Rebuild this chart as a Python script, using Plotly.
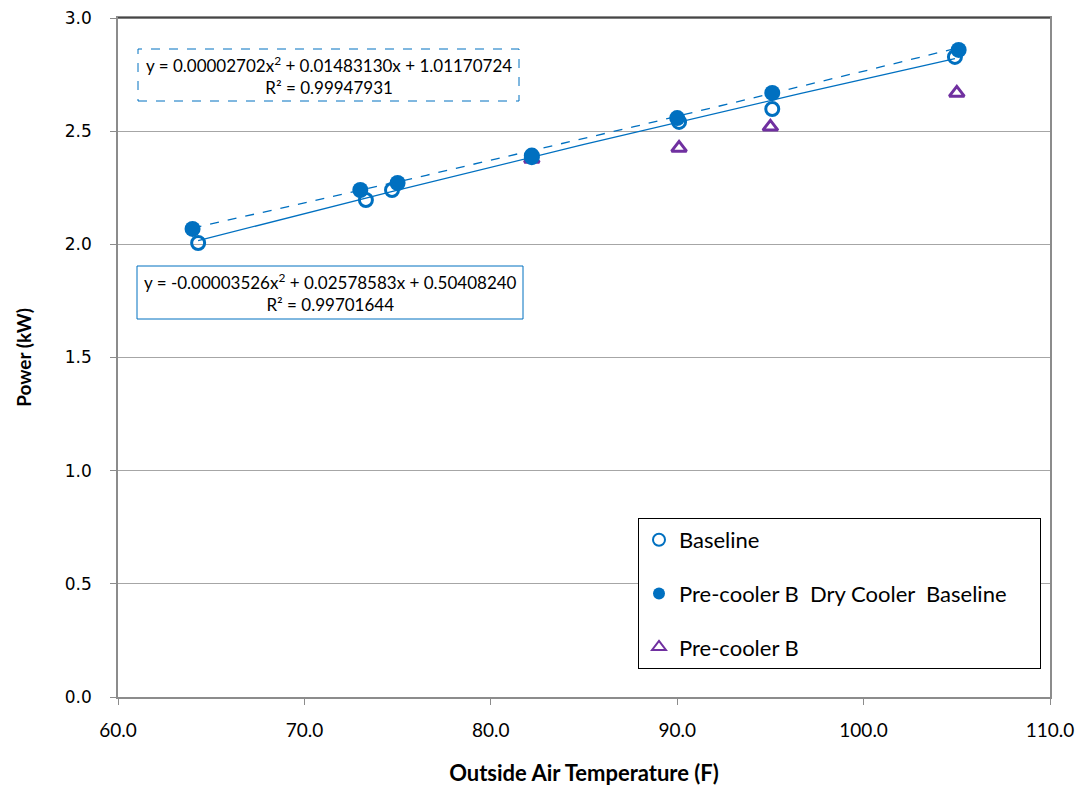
import plotly.graph_objects as go
import numpy as np

# Data
baseline_x = [64.3, 73.3, 74.7, 82.2, 90.1, 95.1, 104.9]
baseline_y = [2.006, 2.196, 2.240, 2.385, 2.541, 2.598, 2.828]

dry_x = [64.0, 73.0, 75.0, 82.2, 90.0, 95.1, 105.1]
dry_y = [2.068, 2.240, 2.271, 2.392, 2.558, 2.669, 2.859]

pre_x = [82.2, 90.1, 95.0, 105.0]
pre_y = [2.377, 2.426, 2.519, 2.669]

# Trendline coefficients (from chart labels)
base_coef = [-0.00003526, 0.02578583, 0.50408240]
dry_coef = [0.00002702, 0.01483130, 1.01170724]

x_ticks = [60, 70, 80, 90, 100, 110]
y_ticks = [0.0, 0.5, 1.0, 1.5, 2.0, 2.5, 3.0]

BLUE = "#0070C0"
PURPLE = "#7030A0"
FONT = "Lato"

def poly(coef, xs):
    xs = np.asarray(xs)
    return coef[0] * xs**2 + coef[1] * xs + coef[2]

fig = go.Figure()

# Trendlines
bx = np.linspace(min(baseline_x), max(baseline_x), 60)
fig.add_trace(go.Scatter(x=bx, y=poly(base_coef, bx), mode="lines",
                         line=dict(color=BLUE, width=1.3), showlegend=False, hoverinfo="skip"))
dx = np.linspace(min(dry_x), max(dry_x), 60)
fig.add_trace(go.Scatter(x=dx, y=poly(dry_coef, dx), mode="lines",
                         line=dict(color=BLUE, width=1.3, dash="dash"), showlegend=False, hoverinfo="skip"))

fig.add_trace(go.Scatter(x=pre_x, y=pre_y, mode="markers", name="Pre-cooler B",
                         marker=dict(symbol="triangle-up-open", size=13, color=PURPLE,
                                     line=dict(width=3, color=PURPLE)),
                         legendgroup="c", legendrank=3))
fig.add_trace(go.Scatter(x=dry_x, y=dry_y, mode="markers",
                         name="Pre-cooler B&nbsp; Dry Cooler&nbsp; Baseline&nbsp;&nbsp;&nbsp;&nbsp;&nbsp;",
                         marker=dict(symbol="circle", size=16, color=BLUE),
                         legendgroup="b", legendrank=2))
fig.add_trace(go.Scatter(x=baseline_x, y=baseline_y, mode="markers", name="Baseline",
                         marker=dict(symbol="circle-open", size=13, color=BLUE,
                                     line=dict(width=3, color=BLUE)),
                         legendgroup="a", legendrank=1))

L, R, T, B = 118, 40, 18, 90
W, H = 1090, 787
pw, ph = W - L - R, H - T - B

def px_x(p):
    return (p - L) / pw

def px_y(p):
    return (H - B - p) / ph

shapes = [
    dict(type="rect", xref="paper", yref="paper",
         x0=px_x(138), x1=px_x(519), y0=px_y(101), y1=px_y(49),
         line=dict(color=BLUE, width=1, dash="dash"), fillcolor="white", layer="above"),
    dict(type="rect", xref="paper", yref="paper",
         x0=px_x(137), x1=px_x(523), y0=px_y(319), y1=px_y(266),
         line=dict(color=BLUE, width=1), fillcolor="white", layer="above"),
    dict(type="line", xref="paper", yref="paper", x0=0, x1=1, y0=1, y1=1,
         line=dict(color="black", width=1.2), layer="above"),
]

annotations = [
    dict(xref="paper", yref="paper", x=px_x(328.5), y=px_y(75), showarrow=False,
         xanchor="center", yanchor="middle",
         text="y = 0.00002702x<sup>2</sup> + 0.01483130x + 1.01170724<br>R² = 0.99947931",
         font=dict(family=FONT, size=17, color="black"), align="center"),
    dict(xref="paper", yref="paper", x=px_x(330), y=px_y(292.5), showarrow=False,
         xanchor="center", yanchor="middle",
         text="y = -0.00003526x<sup>2</sup> + 0.02578583x + 0.50408240<br>R² = 0.99701644",
         font=dict(family=FONT, size=17, color="black"), align="center"),
]

fig.update_layout(
    width=W, height=H,
    margin=dict(l=L, r=R, t=T, b=B),
    plot_bgcolor="white", paper_bgcolor="white",
    font=dict(family=FONT, size=17, color="black"),
    shapes=shapes, annotations=annotations,
    legend=dict(x=px_x(638), y=px_y(518), xanchor="left", yanchor="top",
                bordercolor="black", borderwidth=1, bgcolor="white",
                font=dict(family=FONT, size=22, color="black"),
                tracegroupgap=22, traceorder="grouped",
                itemsizing="constant"),
    showlegend=True,
)

fig.update_xaxes(range=[60, 110], tickvals=x_ticks, ticktext=[f"{v:.1f}" for v in x_ticks],
                 showgrid=False, zeroline=False, showline=True, linecolor="#8c8c8c", linewidth=1.5,
                 mirror=True, ticks="outside", ticklen=6, tickcolor="#8c8c8c",
                 ticklabelstandoff=9, automargin=False,
                 title=dict(text="<b>Outside Air Temperature (F)</b>", font=dict(family=FONT, size=22), standoff=26),
                 tickfont=dict(family=FONT, size=19))
fig.update_yaxes(range=[0, 3.0], tickvals=y_ticks, ticktext=[f"{v:.1f}" for v in y_ticks],
                 showgrid=True, gridcolor="#a6a6a6", gridwidth=1, zeroline=False,
                 showline=True, linecolor="#8c8c8c", linewidth=1.5, mirror=True,
                 ticks="outside", ticklen=6, tickcolor="#8c8c8c",
                 ticklabelstandoff=15, automargin=False,
                 title=dict(text="<b>Power (kW)</b>", font=dict(family=FONT, size=19), standoff=28),
                 tickfont=dict(family="DejaVu Sans", size=17))

fig.write_html("out.html")
